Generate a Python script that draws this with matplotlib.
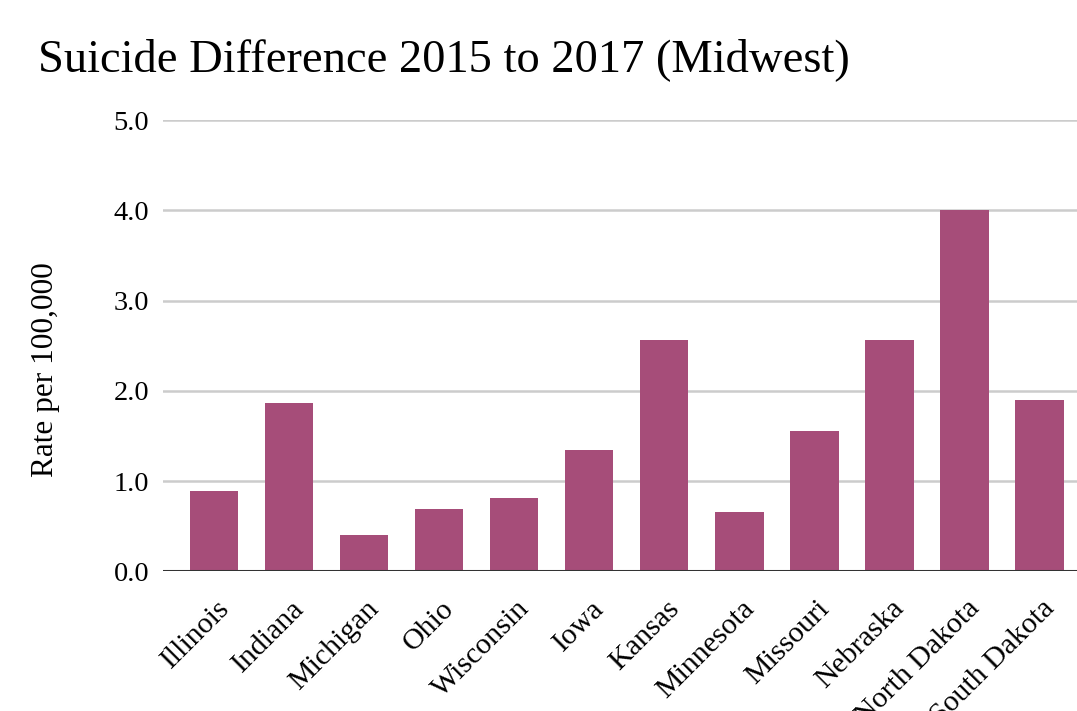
import matplotlib
matplotlib.use("Agg")
import matplotlib.pyplot as plt
import matplotlib.transforms as mtransforms
import numpy as np

# suicide rate change 2015 -> 2017, per 100,000
states = ["Illinois", "Indiana", "Michigan", "Ohio", "Wisconsin", "Iowa",
          "Kansas", "Minnesota", "Missouri", "Nebraska", "North Dakota", "South Dakota"]
rate_diff = [0.89, 1.87, 0.40, 0.69, 0.81, 1.35, 2.56, 0.66, 1.56, 2.56, 4.00, 1.90]
yticks = [0.0, 1.0, 2.0, 3.0, 4.0, 5.0]

plt.rcParams['font.family'] = ['Liberation Serif', 'DejaVu Serif']

fig = plt.figure(figsize=(10.77, 7.11), dpi=100)
ax = fig.add_axes([0.1513, 0.1965, 0.8613, 0.6343])

x = np.arange(len(states))
ax.bar(x, rate_diff, width=0.646, color='#a64d79', zorder=3)

ax.set_xlim(-0.683, len(states) - 1 + 0.683)
ax.set_ylim(0, 5)
ax.set_yticks(yticks)
ax.set_yticklabels([f"{v:.1f}" for v in yticks], fontsize=20.5)
ax.grid(axis='y', color='#cccccc', linewidth=1.8, zorder=0)
ax.axhline(0, color='#333333', linewidth=2.2, zorder=4)

for s in ax.spines.values():
    s.set_visible(False)
ax.tick_params(axis='both', length=0)
ax.tick_params(axis='y', pad=10)
ax.tick_params(axis='x', pad=24)

ax.set_xticks(x)
ax.set_xticklabels(states, fontsize=21.5, rotation=45, ha='right',
                   va='center', rotation_mode='anchor')
shift = mtransforms.ScaledTranslation(11 / 100, 0, fig.dpi_scale_trans)
for lbl in ax.get_xticklabels():
    lbl.set_transform(lbl.get_transform() + shift)

ax.set_ylabel("Rate per 100,000", fontsize=22.5)
ax.yaxis.set_label_coords(-0.111, 0.448)

fig.text(38 / 1077, 1 - 71 / 711, "Suicide Difference 2015 to 2017 (Midwest)",
         fontsize=33.5, ha='left', va='baseline')

fig.savefig("out.png", dpi=100)
